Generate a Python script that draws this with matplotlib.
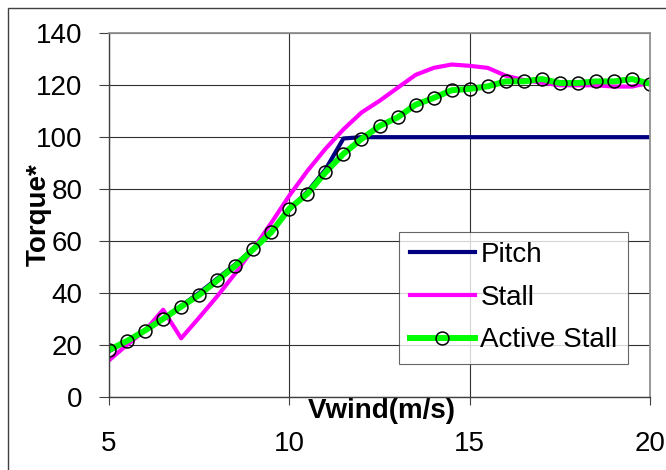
"""
Torque vs wind speed: pitch, stall and active stall control
"""
import matplotlib
matplotlib.use('Agg')
import matplotlib.pyplot as plt
from matplotlib.patches import Rectangle

plt.rcParams['font.family'] = ['Liberation Sans', 'DejaVu Sans']

vwind = [5.0, 5.5, 6.0, 6.5, 7.0, 7.5, 8.0, 8.5, 9.0, 9.5,
         10.0, 10.5, 11.0, 11.5, 12.0, 12.5, 13.0, 13.5, 14.0, 14.5,
         15.0, 15.5, 16.0, 16.5, 17.0, 17.5, 18.0, 18.5, 19.0, 19.5, 20.0]

pitch = [17.5, 21.5, 25.5, 30.0, 35.0, 40.0, 45.5, 51.0, 57.0, 63.5,
         72.0, 79.0, 87.5, 99.5, 100, 100, 100, 100, 100, 100,
         100, 100, 100, 100, 100, 100, 100, 100, 100, 100, 100]

stall = [14.0, 20.0, 25.5, 33.5, 22.5, 30.5, 38.7, 47.5, 57.0, 67.0,
         77.5, 87.0, 95.5, 103.0, 109.5, 114.0, 119.0, 124.0, 126.7, 128.0,
         127.5, 126.7, 123.7, 122.0, 121.0, 120.0, 120.0, 120.0, 119.5, 119.5, 121.0]

active_stall = [18.0, 21.5, 25.5, 30.0, 34.7, 39.2, 44.8, 50.4, 56.8, 63.4,
                72.5, 78.2, 86.4, 93.6, 99.3, 104.3, 107.6, 112.5, 115.1, 118.1,
                118.6, 119.6, 121.5, 121.5, 122.4, 120.9, 120.9, 121.5, 121.5, 122.4, 120.6]

fig = plt.figure(figsize=(6.66, 4.70), dpi=100)
ax = fig.add_axes([0.1637, 0.156, 0.8123, 0.773])

# outer chart frame (only top/left visible in the original)
fig.patches.append(Rectangle((8 / 666, -0.2), 1.5, 1.2 - 7.5 / 470,
                             transform=fig.transFigure, fill=False,
                             edgecolor='#404040', linewidth=1.0))

ax.plot(vwind, pitch, color='#000080', linewidth=3, label='Pitch')
ax.plot(vwind, stall, color='#FF00FF', linewidth=3, label='Stall')
ax.plot(vwind, active_stall, color='#00FF00', linewidth=4.3, marker='o',
        markersize=9.3, markerfacecolor='none', markeredgecolor='black',
        markeredgewidth=1.1, label='Active Stall')

ax.set_xlim(5, 20)
ax.set_ylim(0, 140)
ax.set_xticks([5, 10, 15, 20])
ax.set_yticks(range(0, 141, 20))
ax.grid(True, color='#303030', linewidth=0.8)
ax.set_axisbelow(True)

for side in ['top', 'right']:
    ax.spines[side].set_color('#909090')
    ax.spines[side].set_linewidth(1.3)
for side in ['left', 'bottom']:
    ax.spines[side].set_color('#404040')
    ax.spines[side].set_linewidth(1.0)

ax.tick_params(axis='y', direction='out', length=7.2, width=0.8, color='#404040',
               labelsize=20, pad=12)
ax.tick_params(axis='x', direction='out', length=5.8, width=0.8, color='#404040',
               labelsize=20, pad=19)

ax.set_xlabel('Vwind(m/s)', fontsize=20, fontweight='bold', va='center')
ax.xaxis.set_label_coords(0.505, -0.04)
ax.set_ylabel('Torque*', fontsize=20, fontweight='bold', va='center')
ax.yaxis.set_label_coords(-0.13, 0.5)

leg = ax.legend(loc='lower left', bbox_to_anchor=(0.536, 0.09), borderaxespad=0,
                fontsize=20, frameon=True, fancybox=False, handlelength=2.35,
                handletextpad=0.2, borderpad=0.38, labelspacing=0.6)
leg.get_frame().set_edgecolor('#404040')
leg.get_frame().set_linewidth(0.8)

plt.savefig('out.png', dpi=100)
plt.close()
